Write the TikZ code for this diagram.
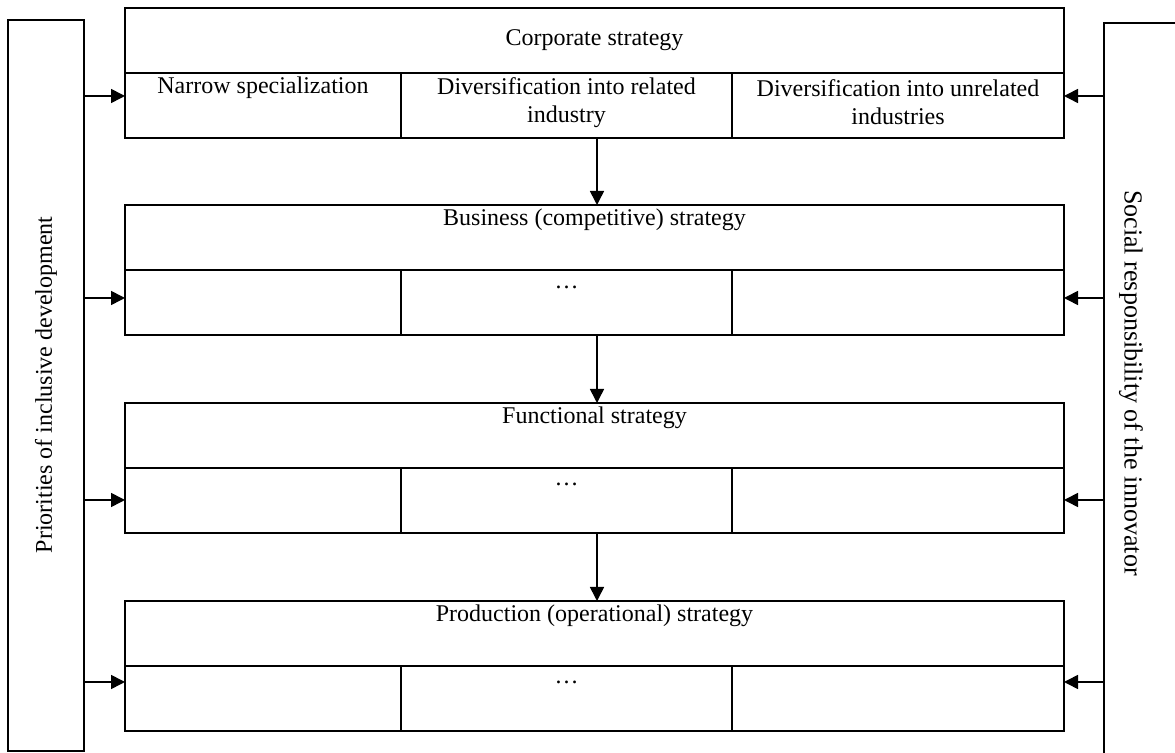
\documentclass[tikz,border=0pt]{standalone}
\usepackage{fontspec}
\setmainfont{Liberation Serif}
\usetikzlibrary{arrows.meta}
\begin{document}
\begin{tikzpicture}[x=0.5pt,y=-0.5pt,
  cell/.style={draw,line width=0.8pt,inner sep=0pt,outer sep=0pt,minimum height=32.5pt},
  wide/.style={cell,minimum width=469.5pt},
  colA/.style={cell,minimum width=138pt},
  colB/.style={cell,minimum width=165.5pt},
  colC/.style={cell,minimum width=166pt},
  side/.style={draw,line width=0.8pt,inner sep=0pt,outer sep=0pt},
  lbl/.style={font=\fontsize{12}{14}\selectfont,align=center,inner sep=0pt},
  arr/.style={-{Triangle[length=7pt,width=7pt]},line width=0.8pt}]
\useasboundingbox (0,0) rectangle (1175,753);
\clip (0,0) rectangle (1175,753);

% side bars
\node[side,minimum width=38pt,minimum height=365.5pt] (L) at (46,385.5) {};
\node[side,minimum width=48pt,minimum height=378.5pt] (R) at (1152,401.5) {};
\node[lbl,rotate=90] (pl) at (46,385) {Priorities of inclusive development};
\node[lbl,rotate=-90,font=\fontsize{13}{15}\selectfont] (sr) at (1131,383) {Social responsibility of the innovator};

% level 1: corporate
\node[wide] (u1) at (594.5,40.5) {};
\node[colA] (a1) at (263,105.5) {};
\node[colB] (b1) at (566.5,105.5) {};
\node[colC] (c1) at (898,105.5) {};
\node[lbl] (t1) at (594.5,40) {Corporate strategy};
\node[lbl] (t1a) at (263,88) {Narrow specialization};
\node[lbl] (t1b) at (566.5,102.5) {Diversification into related\\industry};
\node[lbl] (t1c) at (898,102.5) {Diversification into unrelated\\industries};

% level 2: business
\node[wide] (u2) at (594.5,237.5) {};
\node[colA] (a2) at (263,302.5) {};
\node[colB] (b2) at (566.5,302.5) {};
\node[colC] (c2) at (898,302.5) {};
\node[lbl] (t2) at (594.5,220) {Business (competitive) strategy};
\node[lbl] (d2) at (566.5,287) {…};

% level 3: functional
\node[wide] (u3) at (594.5,435.5) {};
\node[colA] (a3) at (263,500.5) {};
\node[colB] (b3) at (566.5,500.5) {};
\node[colC] (c3) at (898,500.5) {};
\node[lbl] (t3) at (594.5,418) {Functional strategy};
\node[lbl] (d3) at (566.5,484) {…};

% level 4: production
\node[wide] (u4) at (594.5,633.5) {};
\node[colA] (a4) at (263,698.5) {};
\node[colB] (b4) at (566.5,698.5) {};
\node[colC] (c4) at (898,698.5) {};
\node[lbl] (t4) at (594.5,616) {Production (operational) strategy};
\node[lbl] (d4) at (566.5,682) {…};

% arrow heights
\coordinate (h1) at (0,96);
\coordinate (h2) at (0,298);
\coordinate (h3) at (0,500);
\coordinate (h4) at (0,682);

% side inputs
\foreach \i in {1,2,3,4}{
  \draw[arr] (L.east |- h\i) -- (a\i.west |- h\i);
  \draw[arr] (R.west |- h\i) -- (c\i.east |- h\i);
}

% cascade between levels
\draw[arr] ([xshift=1.25pt]u1.center |- a1.south) -- ([xshift=1.25pt]u2.north);
\draw[arr] ([xshift=1.25pt]u2.center |- a2.south) -- ([xshift=1.25pt]u3.north);
\draw[arr] ([xshift=1.25pt]u3.center |- a3.south) -- ([xshift=1.25pt]u4.north);
\end{tikzpicture}
\end{document}
